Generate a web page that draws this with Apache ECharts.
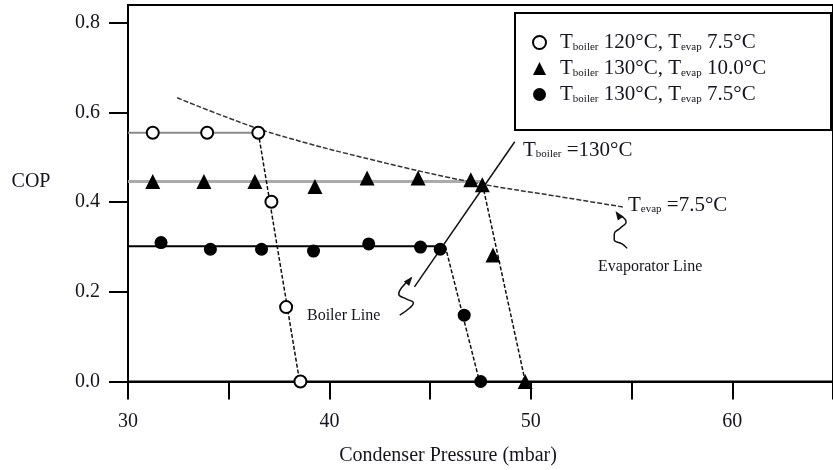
<!DOCTYPE html>
<html>
<head>
<meta charset="utf-8">
<script src="https://cdn.jsdelivr.net/npm/echarts@6/dist/echarts.min.js"></script>
<style>html,body{margin:0;padding:0;background:#fff;}#c{width:833px;height:470px;}</style>
</head>
<body>
<div id="c"></div>
<script>
// ---- data ----
const xTicks = [30, 35, 40, 45, 50, 55, 60, 65];
const xLabels = [30, 40, 50, 60];
const yTicks = [0, 0.2, 0.4, 0.6, 0.8];

const boilerT = ['120°C', '130°C', '130°C'];
const evapT = ['7.5°C', '10.0°C', '7.5°C'];

// Tboiler 120, Tevap 7.5 (open circles)
const openX = [31.23, 33.93, 36.47, 37.12, 37.85, 38.56];
const openY = [0.555, 0.555, 0.555, 0.401, 0.166, 0.0];
const openFlatX = [30, 36.47];
const openFlatY = [0.555, 0.555];
const openDropX = [36.47, 38.52];
const openDropY = [0.555, 0.0];

// Tboiler 130, Tevap 10.0 (triangles)
const triX = [31.23, 33.77, 36.30, 39.28, 41.87, 44.40, 47.02, 47.59, 48.12, 49.72];
const triY = [0.446, 0.446, 0.446, 0.435, 0.454, 0.454, 0.450, 0.439, 0.282, 0.0];
const triFlatX = [30, 47.6];
const triFlatY = [0.446, 0.446];
const triDropX = [47.6, 49.72];
const triDropY = [0.44, 0.0];

// Tboiler 130, Tevap 7.5 (filled circles)
const dotX = [31.64, 34.09, 36.63, 39.21, 41.95, 44.52, 45.50, 46.69, 47.51];
const dotY = [0.310, 0.295, 0.295, 0.291, 0.307, 0.300, 0.295, 0.148, 0.0];
const dotFlatX = [30, 45.75];
const dotFlatY = [0.302, 0.302];
const dotDropX = [45.75, 47.45];
const dotDropY = [0.302, 0.0];

// Evaporator line (Tevap = 7.5°C)
const evapX = [32.44, 34.99, 37.45, 42.36, 47.27, 51.20, 54.63];
const evapY = [0.633, 0.588, 0.550, 0.492, 0.443, 0.414, 0.389];

// Boiler line (Tboiler = 130°C)
const boilX = [44.22, 49.2];
const boilY = [0.211, 0.535];

// annotation squiggles
const sqBoilX = [44.07, 43.58, 43.44, 43.83, 44.17, 43.98, 43.49];
const sqBoilY = [0.231, 0.209, 0.195, 0.184, 0.175, 0.164, 0.148];
const sqBoilHead = [43.97, 0.226];
const sqEvapX = [54.48, 54.73, 54.43, 54.14, 54.14, 54.53, 54.78];
const sqEvapY = [0.369, 0.356, 0.342, 0.329, 0.316, 0.307, 0.297];
const sqEvapHead = [54.33, 0.372];

// ---- helpers ----
const pts = (xs, ys) => xs.map((x, i) => [x, ys[i]]);
const FONT = 'Liberation Serif';
const TXT = '#15151f';
const names = boilerT.map((b, i) => 'Tboiler ' + b + ', Tevap ' + evapT[i]);

function lineSeries(xs, ys, color, width, type, smooth) {
  return {
    type: 'line', data: pts(xs, ys), symbol: 'none', smooth: smooth || false,
    lineStyle: {color: color, width: width, type: type || 'solid', opacity: 1},
    silent: true, z: 2, legendHoverLink: false
  };
}

const chart = echarts.init(document.getElementById('c'), null, {renderer: 'canvas'});
chart.setOption({
  animation: false,
  backgroundColor: '#fff',
  grid: {left: 128, top: 5, width: 713, bottom: 88.5, show: true, borderColor: '#000', borderWidth: 2, backgroundColor: 'transparent'},
  xAxis: {
    type: 'value', min: 30, max: 65,
    axisLine: {show: true, lineStyle: {color: '#000', width: 2}},
    axisTick: {show: true, customValues: xTicks, length: 18, inside: false, lineStyle: {color: '#000', width: 2}},
    axisLabel: {customValues: xLabels, margin: 30, fontFamily: FONT, fontSize: 20, color: TXT},
    splitLine: {show: false}
  },
  yAxis: {
    type: 'value', min: 0, max: 0.84,
    axisLine: {show: true, lineStyle: {color: '#000', width: 2}},
    axisTick: {show: true, customValues: yTicks, length: 19, lineStyle: {color: '#000', width: 2}},
    axisLabel: {customValues: yTicks, margin: 28, fontFamily: FONT, fontSize: 20, color: TXT,
      formatter: v => v.toFixed(1)},
    splitLine: {show: false}
  },
  legend: {
    data: names.map((n, i) => ({name: n, icon: ['emptyCircle', 'triangle', 'circle'][i],
      itemStyle: {color: '#000', opacity: 1, borderColor: '#000'}})),
    orient: 'vertical', left: 532, top: 32, padding: 0,
    itemWidth: 13, itemHeight: 13, itemGap: 5, z: 10,
    selectedMode: false,
    formatter: function (name) {
      const i = names.indexOf(name);
      return '{sp|}{m|T}{s|boiler}{m| ' + boilerT[i] + ', T}{s|evap}{m| ' + evapT[i] + '}';
    },
    textStyle: {
      color: TXT, fontFamily: FONT,
      rich: {
        sp: {width: 9},
        m: {fontSize: 21, fontFamily: FONT, color: TXT, lineHeight: 20},
        s: {fontSize: 11, fontFamily: FONT, color: TXT, lineHeight: 11, verticalAlign: 'bottom'}
      }
    }
  },
  graphic: [
    {type: 'rect', z: 5, shape: {x: 515, y: 13, width: 316, height: 117},
      style: {fill: '#fff', stroke: '#000', lineWidth: 2}},
    {type: 'text', z: 6, style: {x: 31, y: 182, text: 'COP', font: '20px "Liberation Serif"', fill: TXT, align: 'center', verticalAlign: 'middle'}},
    {type: 'text', z: 6, style: {x: 448, y: 456, text: 'Condenser Pressure (mbar)', font: '20px "Liberation Serif"', fill: TXT, align: 'center', verticalAlign: 'middle'}},
    {type: 'text', z: 6, style: {x: 307, y: 316, text: 'Boiler Line', font: '16px "Liberation Serif"', fill: TXT, align: 'left', verticalAlign: 'middle'}},
    {type: 'text', z: 6, style: {x: 598, y: 267, text: 'Evaporator Line', font: '16px "Liberation Serif"', fill: TXT, align: 'left', verticalAlign: 'middle'}},
    {type: 'text', z: 6, style: {x: 523, y: 150, align: 'left', verticalAlign: 'middle',
      text: '{m|T}{s|boiler}{m| =130°C}',
      rich: {m: {fontSize: 21, fontFamily: FONT, fill: TXT, lineHeight: 20},
             s: {fontSize: 11, fontFamily: FONT, fill: TXT, lineHeight: 11, verticalAlign: 'bottom'}}}},
    {type: 'text', z: 6, style: {x: 628, y: 205, align: 'left', verticalAlign: 'middle',
      text: '{m|T}{s|evap}{m| =7.5°C}',
      rich: {m: {fontSize: 21, fontFamily: FONT, fill: TXT, lineHeight: 20},
             s: {fontSize: 11, fontFamily: FONT, fill: TXT, lineHeight: 11, verticalAlign: 'bottom'}}}}
  ],
  series: [
    lineSeries(openFlatX, openFlatY, '#8a8a8a', 2),
    lineSeries(triFlatX, triFlatY, '#ababab', 3),
    lineSeries(dotFlatX, dotFlatY, '#000', 2),
    lineSeries(openDropX, openDropY, '#111', 1.5, [4, 2]),
    lineSeries(triDropX, triDropY, '#111', 1.5, [4, 2]),
    lineSeries(dotDropX, dotDropY, '#111', 1.5, [4, 2]),
    lineSeries(evapX, evapY, '#333', 1.5, [5, 2], 0.4),
    lineSeries(boilX, boilY, '#111', 1.5),
    lineSeries(sqBoilX, sqBoilY, '#111', 1.5, 'solid', 0.5),
    lineSeries(sqEvapX, sqEvapY, '#111', 1.5, 'solid', 0.5),
    {type: 'scatter', data: [sqBoilHead], symbol: 'triangle', symbolSize: [7, 9], symbolRotate: -40,
      itemStyle: {color: '#111', opacity: 1}, silent: true, z: 3},
    {type: 'scatter', data: [sqEvapHead], symbol: 'triangle', symbolSize: [7, 9], symbolRotate: 35,
      itemStyle: {color: '#111', opacity: 1}, silent: true, z: 3},
    {name: names[0], type: 'scatter', data: pts(openX, openY), symbol: 'emptyCircle', symbolSize: 12,
      itemStyle: {color: '#000', borderWidth: 1.5, opacity: 1}, z: 4},
    {name: names[1], type: 'scatter', data: pts(triX, triY), symbol: 'triangle', symbolSize: 15,
      itemStyle: {color: '#000', opacity: 1}, z: 4},
    {name: names[2], type: 'scatter', data: pts(dotX, dotY), symbol: 'circle', symbolSize: 13,
      itemStyle: {color: '#000', opacity: 1}, z: 4}
  ]
});
</script>
</body>
</html>
